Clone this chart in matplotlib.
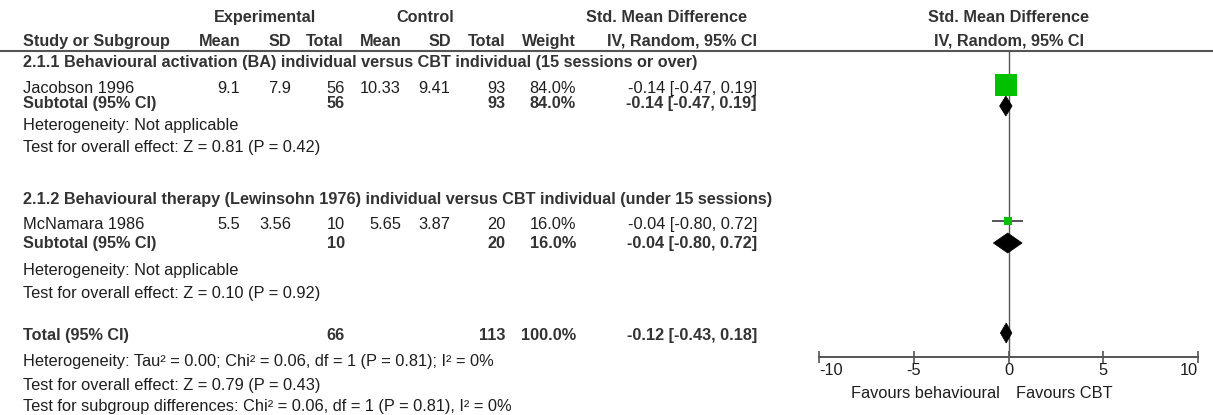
import matplotlib
matplotlib.use('Agg')
import matplotlib.pyplot as plt
from matplotlib.patches import Polygon

# ---------------- data ----------------
studies = ['Jacobson 1996', 'McNamara 1986']
exp_mean = ['9.1', '5.5']
exp_sd = ['7.9', '3.56']
exp_n = [56, 10]
ctl_mean = ['10.33', '5.65']
ctl_sd = ['9.41', '3.87']
ctl_n = [93, 20]
weight = [84.0, 16.0]
smd = [-0.14, -0.04]
ci_lo = [-0.47, -0.80]
ci_hi = [0.19, 0.72]

subgroups = ['2.1.1 Behavioural activation (BA) individual versus CBT individual (15 sessions or over)',
             '2.1.2 Behavioural therapy (Lewinsohn 1976) individual versus CBT individual (under 15 sessions)']
sub_exp_n = [56, 10]
sub_ctl_n = [93, 20]
sub_weight = [84.0, 16.0]
sub_smd = [-0.14, -0.04]
sub_lo = [-0.47, -0.80]
sub_hi = [0.19, 0.72]
sub_het = ['Heterogeneity: Not applicable', 'Heterogeneity: Not applicable']
sub_test = ['Test for overall effect: Z = 0.81 (P = 0.42)',
            'Test for overall effect: Z = 0.10 (P = 0.92)']

total_exp_n = 66
total_ctl_n = 113
total_weight = 100.0
total_smd = -0.12
total_lo = -0.43
total_hi = 0.18
total_notes = ['Heterogeneity: Tau\u00b2 = 0.00; Chi\u00b2 = 0.06, df = 1 (P = 0.81); I\u00b2 = 0%',
               'Test for overall effect: Z = 0.79 (P = 0.43)',
               'Test for subgroup differences: Chi\u00b2 = 0.06, df = 1 (P = 0.81), I\u00b2 = 0%']

xticks = [-10, -5, 0, 5, 10]
fav_left = 'Favours behavioural'
fav_right = 'Favours CBT'

# ---------------- layout ----------------
W, H = 1213, 415
plt.rcParams['font.family'] = ['Liberation Sans', 'DejaVu Sans']
FS = 11.8
FSB = 11.7
TXT = '#1e1e1e'
BTXT = '#333333'
LINE = '#555555'
GREEN = '#00C000'

fig = plt.figure(figsize=(W / 100, H / 100), dpi=100)
tax = fig.add_axes([0, 0, 1, 1])
tax.set_xlim(0, W)
tax.set_ylim(H, 0)
tax.axis('off')

X0, X1 = 819, 1198
fax = fig.add_axes([X0 / W, 0, (X1 - X0) / W, 1])
fax.set_xlim(-10, 10)
fax.set_ylim(H, 0)
fax.patch.set_alpha(0)
for s in ['top', 'left', 'right']:
    fax.spines[s].set_visible(False)
AXIS_Y = 357
fax.spines['bottom'].set_position(('data', AXIS_Y))
fax.spines['bottom'].set_color(LINE)
fax.spines['bottom'].set_linewidth(1.4)
fax.set_yticks([])
fax.set_xticks(xticks)
fax.set_xticklabels([str(t) for t in xticks])
fax.tick_params(axis='x', direction='inout', length=9, width=1.2, color=LINE,
                labelsize=FS, labelcolor=TXT, pad=0)
labs = fax.get_xticklabels()
labs[0].set_ha('left')
labs[-1].set_ha('right')

left = 23
col_exp_mean, col_exp_sd, col_exp_n = 240, 291, 345
col_ctl_mean, col_ctl_sd, col_ctl_n = 401, 450, 505
col_w, col_ci = 576, 757


def t(x, y, s, ha='left', bold=False):
    tax.text(x, y, s, ha=ha, va='center_baseline', fontsize=FSB if bold else FS,
             fontweight='bold' if bold else 'normal',
             color=BTXT if bold else TXT)


# headers
HY1, HY2, LINE_Y = 16, 40, 51
t(265, HY1, 'Experimental', 'center', True)
t(425, HY1, 'Control', 'center', True)
t(667, HY1, 'Std. Mean Difference', 'center', True)
t(left, HY2, 'Study or Subgroup', 'left', True)
for x, s in [(241, 'Mean'), (291, 'SD'), (344, 'Total'), (402, 'Mean'), (451, 'SD'),
             (505, 'Total'), (576, 'Weight'), (757, 'IV, Random, 95% CI')]:
    t(x, HY2, s, 'right', True)
fax.text(0, HY1, 'Std. Mean Difference', ha='center', va='center_baseline', fontsize=FSB,
         fontweight='bold', color=BTXT)
fax.text(0, HY2, 'IV, Random, 95% CI', ha='center', va='center_baseline', fontsize=FSB,
         fontweight='bold', color=BTXT)
tax.plot([0, W], [LINE_Y, LINE_Y], color=LINE, lw=1.5, solid_capstyle='butt')

# vertical line of no effect
fax.vlines(0, LINE_Y, AXIS_Y, color=LINE, lw=1.0)

# rows
sg_y = [61, 198]
st_y = [87, 223]
sub_y = [102, 242]
het_y = [124, 269]
test_y = [146, 292]
DH = 20  # diamond height px


def ci_text(e, lo, hi):
    return f'{e:.2f} [{lo:.2f}, {hi:.2f}]'


def diamond(e, lo, hi, y):
    fax.add_patch(Polygon([(lo, y), (e, y - DH / 2), (hi, y), (e, y + DH / 2)],
                          closed=True, facecolor='black', edgecolor='black', lw=0.5, zorder=4))


for i in range(2):
    t(left, sg_y[i], subgroups[i], 'left', True)
    y = st_y[i]
    t(left, y, studies[i])
    t(col_exp_mean, y, exp_mean[i], 'right')
    t(col_exp_sd, y, exp_sd[i], 'right')
    t(col_exp_n, y, str(exp_n[i]), 'right')
    t(col_ctl_mean, y, ctl_mean[i], 'right')
    t(col_ctl_sd, y, ctl_sd[i], 'right')
    t(col_ctl_n, y, str(ctl_n[i]), 'right')
    t(col_w, y, f'{weight[i]:.1f}%', 'right')
    t(col_ci, y, ci_text(smd[i], ci_lo[i], ci_hi[i]), 'right')
    fax.plot([ci_lo[i], ci_hi[i]], [y - 2, y - 2], color=LINE, lw=1.4, zorder=3)
    side_px = 3.5 + 0.22 * weight[i]
    fax.plot([smd[i]], [y - 2], marker='s', ms=side_px * 0.72, mfc=GREEN, mec=GREEN,
             mew=0, ls='none', zorder=5)

    y = sub_y[i]
    t(left, y, 'Subtotal (95% CI)', 'left', True)
    t(col_exp_n, y, str(sub_exp_n[i]), 'right', True)
    t(col_ctl_n, y, str(sub_ctl_n[i]), 'right', True)
    t(col_w, y, f'{sub_weight[i]:.1f}%', 'right', True)
    t(col_ci, y, ci_text(sub_smd[i], sub_lo[i], sub_hi[i]), 'right', True)
    diamond(sub_smd[i], sub_lo[i], sub_hi[i], y + (4 if i == 0 else 1))
    t(left, het_y[i], sub_het[i])
    t(left, test_y[i], sub_test[i])

# total
TOT_Y = 334
t(left, TOT_Y, 'Total (95% CI)', 'left', True)
t(col_exp_n, TOT_Y, str(total_exp_n), 'right', True)
t(col_ctl_n, TOT_Y, str(total_ctl_n), 'right', True)
t(col_w, TOT_Y, f'{total_weight:.1f}%', 'right', True)
t(col_ci, TOT_Y, ci_text(total_smd, total_lo, total_hi), 'right', True)
diamond(total_smd, total_lo, total_hi, TOT_Y - 1)
for y, s in zip([360, 384, 405], total_notes):
    t(left, y, s)

# favours labels
fax.annotate(fav_left, (0, 392), xytext=(-9, 0), textcoords='offset pixels',
             ha='right', va='center_baseline', fontsize=FS, color=TXT)
fax.annotate(fav_right, (0, 392), xytext=(8, 0), textcoords='offset pixels',
             ha='left', va='center_baseline', fontsize=FS, color=TXT)

fig.savefig('out.png', dpi=100)
